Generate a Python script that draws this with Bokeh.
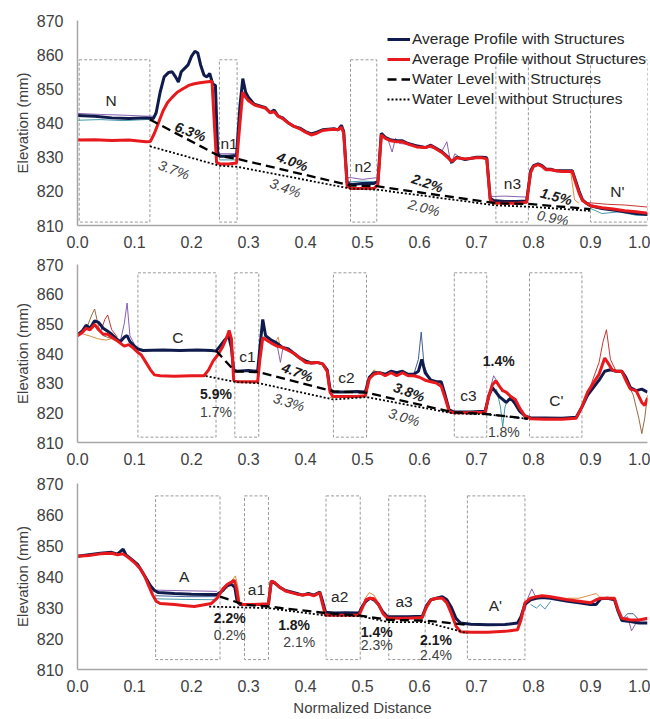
from bokeh.plotting import figure
from bokeh.layouts import column
from bokeh.models import Range1d, FixedTicker, PrintfTickFormatter, Legend, LegendItem
from bokeh.core.properties import value
from bokeh.embed import file_html
from bokeh.resources import INLINE

FONT = "Liberation Sans"
NAVY = "#101b4d"
RED = "#e8191c"
TEAL = "#2f8fa0"
PURPLE = "#7b4fa8"
ORANGE = "#d9822b"
BROWN = "#8b5a2b"
DKRED = "#c0201f"
BLUE = "#2a4f8a"

X_TICKS = [0.0, 0.1, 0.2, 0.3, 0.4, 0.5, 0.6, 0.7, 0.8, 0.9, 1.0]
Y_TICKS = [810, 820, 830, 840, 850, 860, 870]

# ---------------- Panel 1 (N) ----------------
p1_with_x = [0.000, 0.03, 0.06, 0.09, 0.12, 0.133, 0.138, 0.145, 0.152, 0.160, 0.166, 0.172, 0.177, 0.182, 0.188, 0.194,
             0.200, 0.206, 0.211, 0.216, 0.222, 0.227, 0.232, 0.237, 0.242, 0.246, 0.250, 0.265, 0.279, 0.285, 0.290,
             0.295, 0.300, 0.310, 0.320, 0.330, 0.338, 0.345, 0.352, 0.360, 0.370, 0.380, 0.390, 0.400, 0.410, 0.420,
             0.430, 0.440, 0.450, 0.457, 0.463, 0.467, 0.473, 0.480, 0.500, 0.520, 0.527, 0.533, 0.540, 0.550, 0.560,
             0.570, 0.580, 0.595, 0.610, 0.620, 0.630, 0.640, 0.650, 0.657, 0.665, 0.680, 0.700, 0.710, 0.718, 0.724,
             0.730, 0.750, 0.770, 0.788, 0.795, 0.800, 0.808, 0.815, 0.822, 0.830, 0.840, 0.850, 0.860, 0.868, 0.874,
             0.880, 0.886, 0.893, 0.900, 0.920, 0.940, 0.960, 0.980, 1.000]
p1_with_y = [842.2, 842.0, 841.5, 841.3, 841.5, 841.3, 843.0, 849.0, 853.5, 854.8, 855.0, 853.5, 852.0, 855.0, 856.0, 857.0,
             859.5, 861.0, 860.5, 857.0, 854.0, 853.5, 854.5, 851.5, 851.0, 831.0, 830.3, 830.3, 830.5, 845.0, 853.0,
             849.0, 847.5, 845.5, 845.0, 844.5, 843.0, 843.8, 842.0, 841.5, 840.0, 839.0, 838.5, 837.5, 836.8, 837.3,
             838.0, 838.2, 838.3, 838.0, 839.3, 837.5, 822.5, 822.0, 822.3, 822.3, 823.0, 837.0, 835.8, 835.0, 834.8,
             834.8, 834.0, 833.3, 832.8, 833.5, 832.5, 831.5, 830.0, 828.5, 830.0, 829.3, 830.0, 830.0, 829.8, 818.0,
             817.3, 817.0, 817.0, 817.2, 826.0, 827.5, 828.0, 827.5, 826.5, 826.5, 826.0, 826.0, 826.0, 826.0, 823.0,
             820.0, 817.5, 816.5, 815.8, 815.0, 814.5, 814.0, 813.5, 813.2]
p1_without_x = [0.000, 0.03, 0.06, 0.09, 0.12, 0.128, 0.135, 0.142, 0.150, 0.158, 0.166, 0.175, 0.185, 0.195, 0.205, 0.215,
                0.225, 0.236, 0.240, 0.244, 0.250, 0.265, 0.279, 0.285, 0.290, 0.295, 0.300, 0.310, 0.320, 0.330, 0.338,
                0.345, 0.352, 0.360, 0.370, 0.380, 0.390, 0.400, 0.410, 0.420, 0.430, 0.440, 0.450, 0.457, 0.463, 0.467,
                0.473, 0.480, 0.500, 0.520, 0.527, 0.533, 0.540, 0.550, 0.560, 0.570, 0.580, 0.595, 0.610, 0.620, 0.630,
                0.640, 0.650, 0.657, 0.665, 0.680, 0.700, 0.710, 0.718, 0.724, 0.730, 0.750, 0.770, 0.788, 0.795, 0.800,
                0.808, 0.815, 0.822, 0.830, 0.840, 0.850, 0.860, 0.868, 0.874, 0.880, 0.886, 0.893, 0.900, 0.920, 0.940,
                0.960, 0.980, 1.000]
p1_without_y = [835.0, 835.1, 834.9, 835.0, 834.5, 834.6, 837.0, 840.0, 843.5, 846.0, 847.5, 849.0, 850.0, 851.0, 851.5,
                851.8, 852.0, 852.2, 840.0, 828.5, 828.0, 828.0, 828.3, 840.0, 849.0, 847.5, 846.5, 845.3, 844.8, 844.3,
                843.0, 843.3, 842.0, 841.3, 840.0, 839.0, 838.3, 837.3, 836.5, 837.0, 837.8, 838.0, 838.2, 838.0, 838.8,
                837.0, 821.5, 820.8, 820.8, 820.8, 822.0, 836.5, 835.5, 834.8, 834.5, 834.5, 833.8, 833.0, 832.8, 833.3,
                832.3, 831.3, 829.8, 828.8, 829.8, 829.5, 829.8, 829.8, 829.5, 817.5, 816.6, 816.5, 816.5, 816.8, 825.5,
                827.3, 827.8, 827.3, 826.3, 826.3, 826.0, 825.8, 825.8, 825.8, 822.5, 819.5, 817.3, 816.5, 815.8, 815.2,
                814.8, 814.3, 814.0, 813.6]
p1_wl_with_x = [0.127, 0.249, 0.280, 0.479, 0.525, 0.734, 0.791, 0.900]
p1_wl_with_y = [841.0, 830.3, 829.5, 821.7, 821.5, 816.5, 816.3, 814.8]
p1_wl_without_x = [0.127, 0.249, 0.280, 0.479, 0.525, 0.734, 0.791, 0.900]
p1_wl_without_y = [833.2, 827.5, 827.2, 820.8, 820.5, 815.9, 815.5, 814.3]
p1_box_left = [0.003, 0.249, 0.479, 0.734, 0.900]
p1_box_right = [0.127, 0.280, 0.525, 0.791, 1.000]
p1_box_bottom = [811.0, 811.0, 811.0, 811.0, 811.0]
p1_box_top = [858.5, 858.5, 858.5, 858.5, 858.5]
p1_names = ["N", "n1", "n2", "n3", "N'"]
p1_names_x = [0.059, 0.266, 0.501, 0.763, 0.947]
p1_names_y = [846.7, 834.0, 827.3, 822.4, 820.0]
p1_pct_bold = ["6.3%", "4.0%", "2.2%", "1.5%"]
p1_pct_bold_x = [0.198, 0.377, 0.614, 0.840]
p1_pct_bold_y = [837.5, 828.7, 822.4, 818.5]
p1_pct_bold_angle = [-0.36, -0.35, -0.33, -0.26]
p1_pct_plain = ["3.7%", "3.4%", "2.0%", "0.9%"]
p1_pct_plain_x = [0.169, 0.365, 0.608, 0.834]
p1_pct_plain_y = [826.3, 821.0, 815.2, 812.2]
p1_pct_plain_angle = [-0.35, -0.36, -0.26, -0.20]
# individual runs (visible deviations)
p1_thin = [
    (TEAL, [0.0, 0.04, 0.08, 0.12, 0.133], [840.8, 841.0, 840.7, 841.0, 841.0]),
    (PURPLE, [0.0, 0.04, 0.08, 0.12, 0.133], [842.8, 842.5, 842.3, 842.0, 842.0]),
    (TEAL, [0.249, 0.279], [829.2, 829.2]),
    (PURPLE, [0.249, 0.279], [831.0, 831.0]),
    (PURPLE, [0.473, 0.48, 0.50, 0.525], [824.0, 824.0, 823.5, 824.0]),
    (TEAL, [0.473, 0.48, 0.50, 0.525], [823.0, 822.8, 823.0, 822.8]),
    (PURPLE, [0.535, 0.545, 0.552, 0.558, 0.565, 0.60, 0.64, 0.648, 0.655, 0.662, 0.67],
     [836.0, 835.0, 831.5, 835.5, 834.0, 833.5, 832.0, 834.5, 828.0, 831.0, 830.0]),
    (PURPLE, [0.726, 0.75, 0.79], [818.5, 818.6, 818.3]),
    (DKRED, [0.895, 0.93, 0.96, 1.0], [816.7, 816.2, 816.0, 815.4]),
    (TEAL, [0.90, 0.92, 0.95, 0.98, 1.0], [815.0, 813.5, 814.0, 813.0, 813.0]),
    (ORANGE, [0.855, 0.865, 0.872, 0.88], [826.0, 826.0, 817.5, 816.5]),
]

# ---------------- Panel 2 (C) ----------------
p2_with_x = [0.000, 0.008, 0.015, 0.022, 0.030, 0.037, 0.045, 0.053, 0.060, 0.068, 0.075, 0.082, 0.087, 0.092, 0.100,
             0.106, 0.115, 0.150, 0.180, 0.210, 0.235, 0.243, 0.250, 0.258, 0.265, 0.270, 0.274, 0.280, 0.300, 0.316,
             0.320, 0.325, 0.330, 0.340, 0.350, 0.360, 0.370, 0.380, 0.390, 0.400, 0.410, 0.420, 0.430, 0.438, 0.443,
             0.448, 0.470, 0.490, 0.505, 0.512, 0.520, 0.530, 0.540, 0.550, 0.560, 0.570, 0.580, 0.590, 0.598, 0.604,
             0.610, 0.620, 0.630, 0.638, 0.645, 0.652, 0.660, 0.690, 0.715, 0.722, 0.728, 0.734, 0.740, 0.746, 0.752,
             0.760, 0.768, 0.776, 0.785, 0.795, 0.820, 0.850, 0.875, 0.885, 0.895, 0.905, 0.915, 0.925, 0.935, 0.945,
             0.955, 0.962, 0.970, 0.980, 0.990, 1.000]
p2_with_y = [846.3, 847.5, 849.5, 848.5, 851.0, 850.5, 848.5, 847.5, 846.5, 845.0, 844.0, 845.5, 846.0, 844.0, 842.5,
             841.5, 841.0, 841.2, 841.0, 841.2, 841.0, 840.8, 842.5, 844.5, 846.0, 842.0, 834.5, 834.0, 834.3, 834.0,
             842.0, 851.5, 846.0, 844.5, 843.5, 842.0, 841.5, 840.0, 838.5, 837.5, 836.8, 837.0, 836.5, 834.5, 828.0,
             827.0, 827.0, 827.2, 827.0, 832.0, 833.5, 833.5, 833.0, 834.0, 833.5, 834.0, 833.0, 833.0, 834.0, 838.0,
             833.5, 831.0, 830.5, 830.5, 826.0, 821.0, 820.3, 820.3, 820.5, 826.0, 828.5, 827.0, 825.5, 824.5, 823.5,
             825.0, 823.0, 820.5, 819.0, 818.3, 818.3, 818.2, 818.5, 822.0, 826.0, 828.5, 831.0, 834.0, 834.5, 834.0,
             834.0, 832.0, 828.5, 827.5, 828.0, 827.0]
p2_without_x = [0.000, 0.008, 0.015, 0.022, 0.030, 0.037, 0.045, 0.053, 0.060, 0.068, 0.075, 0.082, 0.090, 0.097, 0.105,
                0.112, 0.120, 0.128, 0.135, 0.145, 0.170, 0.200, 0.222, 0.230, 0.238, 0.246, 0.254, 0.262, 0.266, 0.270,
                0.274, 0.280, 0.300, 0.316, 0.320, 0.325, 0.332, 0.340, 0.350, 0.360, 0.370, 0.380, 0.390, 0.400, 0.410,
                0.420, 0.430, 0.438, 0.443, 0.448, 0.470, 0.490, 0.505, 0.512, 0.520, 0.530, 0.540, 0.550, 0.560, 0.570,
                0.580, 0.590, 0.600, 0.610, 0.620, 0.630, 0.638, 0.645, 0.652, 0.660, 0.690, 0.715, 0.722, 0.728, 0.734,
                0.740, 0.746, 0.752, 0.760, 0.768, 0.776, 0.785, 0.795, 0.820, 0.850, 0.875, 0.885, 0.895, 0.905, 0.915,
                0.925, 0.930, 0.938, 0.945, 0.955, 0.962, 0.970, 0.980, 0.990, 0.995, 1.000]
p2_without_y = [846.0, 847.0, 848.5, 848.0, 849.8, 848.0, 846.5, 846.5, 845.5, 844.5, 843.5, 842.5, 843.0, 842.0, 840.5,
                839.5, 837.0, 834.5, 832.8, 832.5, 832.3, 832.5, 832.5, 834.5, 837.5, 839.5, 842.0, 845.5, 847.8, 845.0,
                831.0, 830.5, 830.5, 830.5, 838.0, 845.3, 844.5, 843.5, 842.5, 842.0, 841.0, 840.0, 838.5, 837.0, 836.8,
                837.0, 836.5, 834.0, 827.0, 825.5, 825.5, 825.5, 825.8, 831.5, 833.0, 833.5, 832.5, 833.5, 832.5, 833.5,
                832.5, 832.5, 832.0, 831.0, 830.5, 830.0, 829.0, 825.0, 820.5, 820.0, 820.0, 820.2, 826.0, 829.5, 830.8,
                829.0, 827.5, 827.0, 825.5, 824.5, 821.5, 819.0, 818.0, 817.8, 817.8, 818.2, 822.0, 827.0, 830.0, 833.0,
                838.5, 837.0, 834.5, 834.0, 834.0, 831.0, 828.0, 827.5, 823.5, 822.5, 825.0]
p2_wl_with_x = [0.243, 0.276, 0.318, 0.449, 0.507, 0.659, 0.718, 0.790]
p2_wl_with_y = [841.0, 834.0, 833.7, 827.2, 826.8, 820.2, 819.6, 818.0]
p2_wl_without_x = [0.225, 0.278, 0.318, 0.449, 0.507, 0.659, 0.718, 0.790]
p2_wl_without_y = [832.4, 830.4, 830.0, 824.5, 825.3, 819.8, 819.5, 818.0]
p2_box_left = [0.106, 0.276, 0.449, 0.661, 0.793]
p2_box_right = [0.243, 0.318, 0.507, 0.718, 0.885]
p2_box_bottom = [811.8, 811.8, 811.8, 811.8, 811.8]
p2_box_top = [867.2, 867.2, 867.2, 867.2, 867.2]
p2_names = ["C", "c1", "c2", "c3", "C'"]
p2_names_x = [0.176, 0.298, 0.472, 0.686, 0.840]
p2_names_y = [845.5, 839.1, 832.0, 825.8, 824.2]
p2_pct_bi = ["4.7%", "3.8%"]
p2_pct_bi_x = [0.386, 0.582]
p2_pct_bi_y = [833.7, 827.0]
p2_pct_it = ["3.3%", "3.0%"]
p2_pct_it_x = [0.371, 0.573]
p2_pct_it_y = [823.6, 818.5]
p2_pct_bold = ["5.9%", "1.4%"]
p2_pct_bold_x = [0.243, 0.739]
p2_pct_bold_y = [826.4, 837.6]
p2_pct_plain = ["1.7%", "1.8%"]
p2_pct_plain_x = [0.243, 0.748]
p2_pct_plain_y = [820.2, 813.5]
p2_thin = [
    (BROWN, [0.0, 0.015, 0.025, 0.03, 0.037, 0.045, 0.06], [846.0, 848.0, 853.0, 855.0, 849.0, 846.0, 845.0]),
    (PURPLE, [0.075, 0.082, 0.087, 0.092, 0.10], [844.0, 850.0, 857.0, 846.0, 843.0]),
    (DKRED, [0.04, 0.048, 0.053, 0.06, 0.07], [847.0, 851.5, 853.0, 848.0, 845.5]),
    (ORANGE, [0.01, 0.02, 0.035, 0.05, 0.06], [846.5, 846.0, 845.0, 844.5, 845.0]),
    (BLUE, [0.59, 0.598, 0.603, 0.608, 0.615], [833.0, 838.0, 847.2, 836.0, 832.5]),
    (DKRED, [0.90, 0.915, 0.922, 0.928, 0.935, 0.945], [829.0, 837.0, 844.0, 848.0, 838.0, 834.0]),
    (BROWN, [0.965, 0.975, 0.985, 0.99, 0.995, 1.0], [830.0, 826.0, 818.0, 813.0, 818.0, 826.0]),
    (PURPLE, [0.718, 0.724, 0.73, 0.738, 0.745], [820.5, 828.0, 832.5, 830.0, 827.0]),
    (TEAL, [0.735, 0.742, 0.746, 0.75, 0.756], [828.0, 822.0, 815.3, 822.0, 825.0]),
    (ORANGE, [0.443, 0.50, 0.505, 0.512, 0.52, 0.53], [825.2, 825.2, 826.0, 832.0, 834.5, 833.0]),
    (ORANGE, [0.345, 0.352, 0.356, 0.36], [843.0, 845.5, 842.0, 842.0]),
    (PURPLE, [0.35, 0.356, 0.36], [843.0, 837.0, 841.5]),
]

# ---------------- Panel 3 (A) ----------------
p3_with_x = [0.000, 0.020, 0.040, 0.060, 0.070, 0.080, 0.085, 0.095, 0.105, 0.112, 0.120, 0.128, 0.135, 0.142, 0.170,
             0.200, 0.230, 0.245, 0.255, 0.262, 0.270, 0.276, 0.280, 0.285, 0.310, 0.335, 0.340, 0.345, 0.355, 0.365,
             0.375, 0.385, 0.395, 0.405, 0.415, 0.425, 0.430, 0.435, 0.450, 0.470, 0.494, 0.500, 0.506, 0.513, 0.520,
             0.528, 0.536, 0.544, 0.560, 0.580, 0.605, 0.612, 0.620, 0.630, 0.640, 0.648, 0.656, 0.664, 0.672, 0.690,
             0.720, 0.750, 0.772, 0.778, 0.785, 0.795, 0.805, 0.815, 0.830, 0.845, 0.860, 0.880, 0.900, 0.910, 0.918,
             0.930, 0.942, 0.948, 0.955, 0.970, 0.985, 1.000]
p3_with_y = [846.5, 847.0, 847.5, 847.8, 847.2, 848.8, 847.0, 845.5, 844.0, 842.0, 839.5, 837.0, 835.5, 834.8, 834.5,
             834.3, 834.2, 834.2, 835.5, 837.0, 837.5, 836.5, 832.0, 831.0, 831.0, 831.0, 838.5, 838.0, 836.5, 835.5,
             835.0, 834.5, 834.0, 834.5, 834.0, 835.0, 832.0, 828.5, 828.2, 828.3, 828.2, 830.5, 832.0, 833.0, 832.5,
             831.0, 828.5, 827.0, 827.0, 827.0, 827.2, 830.5, 832.5, 833.0, 833.5, 832.5, 830.0, 826.5, 825.0, 824.6,
             824.4, 824.5, 825.0, 827.0, 831.0, 832.5, 833.0, 833.2, 833.0, 832.5, 832.0, 831.5, 831.0, 831.0, 832.8,
             833.0, 832.5, 829.0, 825.8, 825.5, 825.0, 825.0]
p3_without_x = [0.000, 0.020, 0.040, 0.060, 0.070, 0.080, 0.090, 0.100, 0.110, 0.118, 0.125, 0.132, 0.138, 0.145, 0.170,
                0.190, 0.205, 0.220, 0.235, 0.245, 0.255, 0.263, 0.270, 0.275, 0.279, 0.283, 0.290, 0.310, 0.335, 0.340,
                0.345, 0.355, 0.365, 0.375, 0.385, 0.395, 0.405, 0.415, 0.425, 0.430, 0.435, 0.450, 0.494, 0.500, 0.506,
                0.513, 0.520, 0.528, 0.536, 0.544, 0.560, 0.580, 0.605, 0.612, 0.620, 0.630, 0.640, 0.648, 0.656, 0.664,
                0.672, 0.690, 0.720, 0.750, 0.772, 0.778, 0.785, 0.795, 0.805, 0.815, 0.830, 0.845, 0.860, 0.880, 0.900,
                0.910, 0.918, 0.930, 0.942, 0.948, 0.955, 0.970, 0.985, 1.000]
p3_without_y = [846.5, 846.8, 847.3, 847.5, 847.0, 847.3, 846.0, 844.5, 842.5, 840.0, 837.0, 834.0, 832.0, 831.3, 831.0,
                830.6, 830.3, 830.8, 831.3, 833.0, 836.0, 837.5, 838.2, 838.8, 836.0, 831.5, 831.0, 831.0, 831.2, 838.5,
                838.2, 836.5, 835.3, 834.8, 834.3, 834.0, 834.3, 833.8, 834.8, 831.0, 827.5, 827.5, 827.5, 830.0, 832.5,
                833.0, 832.8, 831.0, 828.0, 826.5, 826.5, 826.5, 826.8, 830.0, 832.5, 833.0, 833.0, 831.5, 828.0, 824.0,
                822.2, 822.0, 822.0, 822.3, 822.8, 826.0, 831.5, 833.0, 833.5, 833.8, 833.5, 833.0, 832.5, 832.0, 831.5,
                832.5, 833.0, 833.0, 833.0, 829.5, 826.5, 826.0, 826.0, 826.5]
p3_wl_with_x = [0.250, 0.293, 0.335, 0.436, 0.496, 0.546, 0.610, 0.684]
p3_wl_with_y = [833.5, 830.9, 830.3, 828.2, 827.4, 826.0, 825.8, 824.4]
p3_wl_without_x = [0.231, 0.293, 0.335, 0.436, 0.496, 0.546, 0.610, 0.684]
p3_wl_without_y = [830.3, 830.0, 829.8, 827.4, 827.2, 825.3, 825.3, 821.7]
p3_box_left = [0.137, 0.293, 0.436, 0.546, 0.684]
p3_box_right = [0.250, 0.335, 0.496, 0.610, 0.785]
p3_box_bottom = [813.2, 813.2, 813.2, 813.2, 813.2]
p3_box_top = [866.0, 866.0, 866.0, 866.0, 866.0]
p3_names = ["A", "a1", "a2", "a3", "A'"]
p3_names_x = [0.187, 0.314, 0.460, 0.573, 0.733]
p3_names_y = [840.0, 835.7, 833.4, 831.8, 830.7]
p3_pct_bold = ["2.2%", "1.8%", "1.4%", "2.1%"]
p3_pct_bold_x = [0.267, 0.380, 0.525, 0.629]
p3_pct_bold_y = [826.5, 824.3, 822.1, 819.5]
p3_pct_plain = ["0.2%", "2.1%", "2.3%", "2.4%"]
p3_pct_plain_x = [0.267, 0.389, 0.525, 0.629]
p3_pct_plain_y = [821.0, 818.9, 817.8, 814.6]
p3_thin = [
    (PURPLE, [0.137, 0.19, 0.245], [835.6, 835.4, 835.2]),
    (TEAL, [0.137, 0.19, 0.245], [832.8, 832.6, 832.5]),
    (BLUE, [0.137, 0.19, 0.245], [833.8, 833.5, 833.5]),
    (ORANGE, [0.262, 0.27, 0.277, 0.281, 0.285], [836.0, 838.5, 840.2, 837.0, 831.5]),
    (ORANGE, [0.497, 0.505, 0.512, 0.52, 0.53], [829.0, 833.0, 834.8, 834.0, 831.0]),
    (PURPLE, [0.785, 0.79, 0.797, 0.805, 0.815], [829.0, 833.0, 836.0, 833.0, 833.5]),
    (TEAL, [0.795, 0.805, 0.812, 0.82, 0.83], [831.0, 829.8, 831.0, 829.5, 832.0]),
    (ORANGE, [0.86, 0.88, 0.90, 0.91, 0.918], [833.0, 833.0, 834.0, 834.5, 833.0]),
    (PURPLE, [0.955, 0.965, 0.972, 0.98, 0.99, 1.0], [826.0, 827.0, 822.5, 825.0, 826.0, 826.0]),
    (BLUE, [0.955, 0.965, 0.975, 0.985], [826.0, 828.0, 828.0, 826.0]),
]


def make_fig(height, top, bottom, xlabel=None):
    p = figure(width=650, height=height, output_backend="svg", toolbar_location=None,
               x_range=Range1d(0, 1), y_range=Range1d(810, 870),
               min_border_left=77, min_border_right=3, min_border_top=top, min_border_bottom=bottom)
    p.outline_line_color = None
    p.grid.visible = False
    p.background_fill_color = "white"
    p.border_fill_color = "white"
    for ax in (p.xaxis[0], p.yaxis[0]):
        ax.axis_line_color = "#a6a6a6"
        ax.axis_line_width = 1.5
        ax.major_tick_line_color = None
        ax.minor_tick_line_color = None
        ax.major_tick_out = 0
        ax.major_tick_in = 0
        ax.major_label_text_font = FONT
        ax.major_label_text_font_size = "16px"
        ax.major_label_text_color = "#404040"
        ax.axis_label_text_font = FONT
        ax.axis_label_text_font_size = "15px"
        ax.axis_label_text_font_style = "normal"
        ax.axis_label_text_color = "#404040"
    p.xaxis.ticker = FixedTicker(ticks=X_TICKS)
    p.xaxis.formatter = PrintfTickFormatter(format="%.1f")
    p.yaxis.ticker = FixedTicker(ticks=Y_TICKS)
    p.xaxis.major_label_standoff = 10
    p.yaxis.major_label_standoff = 14
    p.yaxis.axis_label = "Elevation (mm)"
    p.yaxis.axis_label_standoff = 3
    if xlabel:
        p.xaxis.axis_label = xlabel
        p.xaxis.axis_label_standoff = 4
    return p


def draw_panel(p, thin, wx, wy, nx, ny, wlx, wly, wlnx, wlny, bl, br, bb, bt, names, namx, namy):
    p.quad(left=bl, right=br, bottom=bb, top=bt, fill_color=None, line_color="#9a9a9a",
           line_dash="3 2", line_width=1)
    for col, xs, ys in thin:
        p.line(xs, ys, line_color=col, line_width=1, line_alpha=0.9)
    r_with = p.line(wx, wy, line_color=NAVY, line_width=3)
    r_without = p.line(nx, ny, line_color=RED, line_width=3)
    r_wl = p.line(wlx, wly, line_color="black", line_width=2.3, line_dash="9 5")
    r_wln = p.line(wlnx, wlny, line_color="black", line_width=1.8, line_dash="2 2")
    p.text(x=namx, y=namy, text=names, text_font=value(FONT), text_font_size="15.5px",
           text_color="#262626", text_align="center", text_baseline="middle")
    return r_with, r_without, r_wl, r_wln


def pct(p, xs, ys, labels, style, color, angle=0.0):
    p.text(x=xs, y=ys, text=labels, angle=angle, text_font=value(FONT), text_font_size="14px",
           text_font_style=style, text_color=color, text_align="center", text_baseline="middle")


# Panel 1
f1 = make_fig(254, 20, 29)
r1 = draw_panel(f1, p1_thin, p1_with_x, p1_with_y, p1_without_x, p1_without_y,
                p1_wl_with_x, p1_wl_with_y, p1_wl_without_x, p1_wl_without_y,
                p1_box_left, p1_box_right, p1_box_bottom, p1_box_top, p1_names, p1_names_x, p1_names_y)
pct(f1, p1_pct_bold_x, p1_pct_bold_y, p1_pct_bold, "bold italic", "#1a1a1a", p1_pct_bold_angle)
pct(f1, p1_pct_plain_x, p1_pct_plain_y, p1_pct_plain, "italic", "#404040", p1_pct_plain_angle)

legend = Legend(items=[
    LegendItem(label="Average Profile with Structures", renderers=[r1[0]]),
    LegendItem(label="Average Profile without Structures", renderers=[r1[1]]),
    LegendItem(label="Water Level with Structures", renderers=[r1[2]]),
    LegendItem(label="Water Level without Structures", renderers=[r1[3]]),
], location=(310, 117))
legend.label_text_font = FONT
legend.label_text_font_size = "15.5px"
legend.label_text_color = "#262626"
legend.glyph_width = 23
legend.glyph_height = 16
legend.label_height = 16
legend.label_standoff = 2
legend.spacing = 2
legend.padding = 0
legend.margin = 0
legend.border_line_color = None
legend.background_fill_alpha = 0.0
f1.add_layout(legend)

# Panel 2
f2 = make_fig(216, 10, 28)
draw_panel(f2, p2_thin, p2_with_x, p2_with_y, p2_without_x, p2_without_y,
           p2_wl_with_x, p2_wl_with_y, p2_wl_without_x, p2_wl_without_y,
           p2_box_left, p2_box_right, p2_box_bottom, p2_box_top, p2_names, p2_names_x, p2_names_y)
pct(f2, p2_pct_bi_x, p2_pct_bi_y, p2_pct_bi, "bold italic", "#1a1a1a", -0.35)
pct(f2, p2_pct_it_x, p2_pct_it_y, p2_pct_it, "italic", "#404040", -0.3)
pct(f2, p2_pct_bold_x, p2_pct_bold_y, p2_pct_bold, "bold", "#1a1a1a")
pct(f2, p2_pct_plain_x, p2_pct_plain_y, p2_pct_plain, "normal", "#404040")

# Panel 3
f3 = make_fig(248, 13, 49, xlabel="Normalized Distance")
draw_panel(f3, p3_thin, p3_with_x, p3_with_y, p3_without_x, p3_without_y,
           p3_wl_with_x, p3_wl_with_y, p3_wl_without_x, p3_wl_without_y,
           p3_box_left, p3_box_right, p3_box_bottom, p3_box_top, p3_names, p3_names_x, p3_names_y)
pct(f3, p3_pct_bold_x, p3_pct_bold_y, p3_pct_bold, "bold", "#1a1a1a")
pct(f3, p3_pct_plain_x, p3_pct_plain_y, p3_pct_plain, "normal", "#404040")

layout = column(f1, f2, f3, spacing=0)
open("out.html", "w").write(file_html(layout, INLINE))
